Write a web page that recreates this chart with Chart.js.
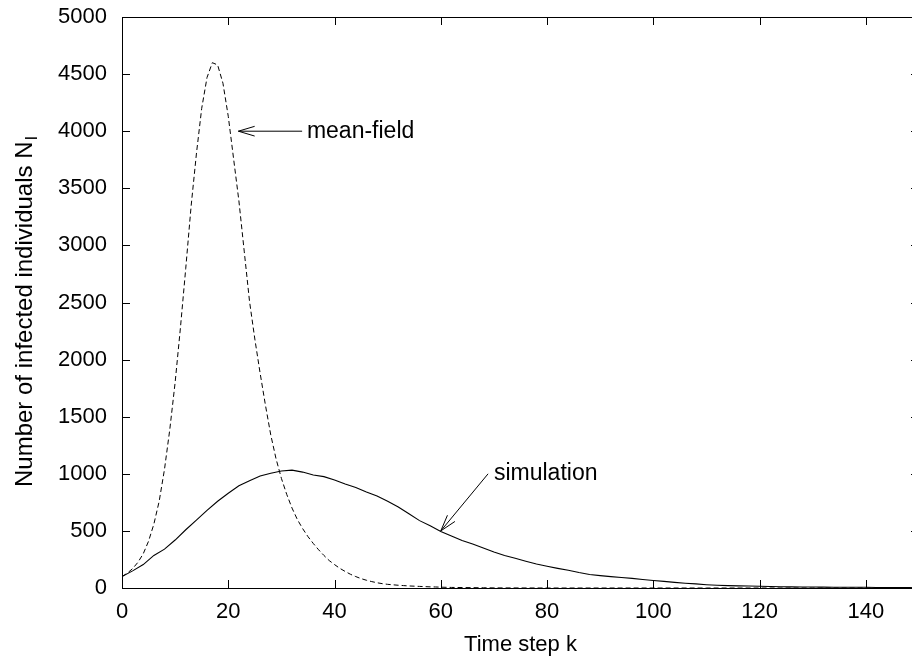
<!DOCTYPE html>
<html>
<head>
<meta charset="utf-8">
<script src="https://cdn.jsdelivr.net/npm/chart.js@4.4.1/dist/chart.umd.min.js"></script>
<style>
  html, body { margin: 0; padding: 0; overflow: hidden; background: #fff; }
  #wrap { width: 940px; height: 660px; }
</style>
</head>
<body>
<div id="wrap"><canvas id="chart" width="940" height="660"></canvas></div>
<script>
// mean-field model (dashed)
const meanFieldK = [0, 1, 2, 3, 4, 5, 6, 7, 8, 9, 10, 11, 12, 13, 14, 15, 16, 17, 18, 19,
  20, 21, 22, 23, 24, 25, 26, 27, 28, 29, 30, 31, 32, 33, 34, 35, 36, 37, 38, 39,
  40, 41, 42, 43, 44, 45, 46, 47, 48, 49, 50, 51, 52, 53, 54, 55, 56, 57, 58, 59,
  60, 62, 64, 66, 68, 70, 80, 90, 100, 110, 120, 130, 140, 150]
const meanFieldN = [100, 130, 170, 225, 300, 410, 560, 760, 1040, 1390, 1800, 2280, 2800, 3340, 3800, 4200, 4470, 4600, 4580, 4420,
  4130, 3760, 3390, 2950, 2510, 2180, 1880, 1600, 1340, 1130, 960, 820, 700, 600, 520, 450, 390, 335, 285, 240,
  205, 172, 145, 120, 100, 82, 68, 56, 46, 38, 32, 28, 24, 21, 18, 16, 14, 12, 10, 9,
  7, 5, 4, 3, 2, 1, 0, 0, 0, 0, 0, 0, 0, 0]

// simulation (solid)
const simK = [0, 2, 4, 6, 8, 10, 12, 14, 16, 18, 20, 22, 24, 26, 28, 30, 32, 34, 36, 38,
  40, 42, 44, 46, 48, 50, 52, 54, 56, 58, 60, 62, 64, 66, 68, 70, 72, 74, 76, 78,
  80, 82, 84, 86, 88, 90, 92, 94, 96, 98, 100, 102, 104, 106, 108, 110, 112, 114, 116, 118,
  120, 122, 124, 126, 128, 130, 132, 134, 136, 138, 140, 142, 144, 146, 148, 150]
const simN = [100, 150, 205, 285, 340, 420, 510, 595, 680, 760, 830, 895, 940, 980, 1005, 1025, 1032, 1015, 990, 975,
  945, 910, 880, 840, 805, 760, 710, 650, 590, 545, 495, 455, 415, 385, 350, 315, 285, 260, 235, 210,
  190, 172, 155, 135, 118, 108, 100, 92, 84, 74, 66, 58, 49, 42, 36, 29, 24, 21, 19, 17,
  15, 13, 11, 10, 9, 9, 8, 7, 6, 6, 6, 5, 4, 3, 3, 2]

const xTicks = [0, 20, 40, 60, 80, 100, 120, 140]
const yTicks = [0, 500, 1000, 1500, 2000, 2500, 3000, 3500, 4000, 4500, 5000]

// annotations: label start, arrow tail, arrow tip (data units)
const mfNote = { text: 'mean-field', label: [34.8, 4000], from: [33.9, 4000], to: [21.9, 4000] }
const simNote = { text: 'simulation', label: [70.0, 1000], from: [68.9, 1000], to: [60.0, 500] }

const FONT = '"Liberation Sans", Arial, Helvetica, sans-serif'

function drawArrow(ctx, x0, y0, x1, y1) {
  const ang = Math.atan2(y1 - y0, x1 - x0)
  const len = 17, spread = 0.29
  ctx.beginPath()
  ctx.moveTo(x0, y0); ctx.lineTo(x1, y1)
  ctx.moveTo(x1 - len * Math.cos(ang - spread), y1 - len * Math.sin(ang - spread))
  ctx.lineTo(x1, y1)
  ctx.lineTo(x1 - len * Math.cos(ang + spread), y1 - len * Math.sin(ang + spread))
  ctx.stroke()
}

const decor = {
  id: 'decor',
  afterDraw(chart) {
    const { ctx, chartArea: a, scales: { x, y } } = chart
    const L = Math.round(a.left), R = Math.round(a.right)
    const T = Math.round(a.top), B = Math.round(a.bottom)
    ctx.save()
    ctx.setLineDash([])
    ctx.strokeStyle = '#000'
    ctx.fillStyle = '#000'
    ctx.lineWidth = 1

    // box and inward ticks on all four sides
    ctx.fillRect(L, T, R - L, 1)
    ctx.fillRect(R - 1, T, 1, B - T)
    for (const v of xTicks) {
      const px = Math.round(x.getPixelForValue(v))
      ctx.fillRect(px, B - 8, 1, 8)
      ctx.fillRect(px, T, 1, 8)
    }
    for (const v of yTicks) {
      const py = Math.round(y.getPixelForValue(v))
      ctx.fillRect(L, py, 8, 1)
      ctx.fillRect(R - 8, py, 8, 1)
    }

    // annotations
    ctx.font = '23px ' + FONT
    ctx.textBaseline = 'middle'
    ctx.textAlign = 'left'
    for (const n of [mfNote, simNote]) {
      drawArrow(ctx, x.getPixelForValue(n.from[0]), y.getPixelForValue(n.from[1]),
        x.getPixelForValue(n.to[0]), y.getPixelForValue(n.to[1]))
      ctx.fillText(n.text, x.getPixelForValue(n.label[0]), y.getPixelForValue(n.label[1]))
    }

    // y axis title with subscript
    const main = 'Number of infected individuals N'
    ctx.font = '24px ' + FONT
    ctx.translate(32, 487)
    ctx.rotate(-Math.PI / 2)
    ctx.textBaseline = 'alphabetic'
    ctx.fillText(main, 0, 0)
    const w = ctx.measureText(main).width
    ctx.font = '17px ' + FONT
    ctx.fillText('I', w + 1, 5)
    ctx.restore()
  }
}

const tickFont = { family: FONT, size: 22 }

new Chart(document.getElementById('chart'), {
  type: 'line',
  data: {
    datasets: [{
      label: 'mean-field',
      data: meanFieldK.map((k, i) => ({ x: k, y: meanFieldN[i] })),
      borderColor: '#000',
      borderWidth: 1,
      borderDash: [5, 3],
      pointRadius: 0,
      tension: 0
    }, {
      label: 'simulation',
      data: simK.map((k, i) => ({ x: k, y: simN[i] })),
      borderColor: '#000',
      borderWidth: 1.1,
      pointRadius: 0,
      tension: 0
    }]
  },
  options: {
    responsive: false,
    animation: false,
    layout: { padding: { left: 0, right: 21, top: 17, bottom: 0 } },
    plugins: { legend: { display: false }, tooltip: { enabled: false } },
    scales: {
      x: {
        type: 'linear',
        min: 0,
        max: 150,
        afterBuildTicks: s => { s.ticks = xTicks.map(v => ({ value: v })) },
        afterFit: s => { s.height = 72; s.paddingLeft = 0; s.paddingRight = 0 },
        grid: { display: false, drawTicks: false },
        border: { display: true, color: '#000', width: 1 },
        ticks: { color: '#000', font: tickFont, padding: 11, maxRotation: 0, autoSkip: false, callback: v => String(v) },
        title: { display: true, text: 'Time step k', color: '#000', font: tickFont, padding: { top: 0, bottom: 2 } }
      },
      y: {
        min: 0,
        max: 5000,
        afterBuildTicks: s => { s.ticks = yTicks.map(v => ({ value: v })) },
        afterFit: s => { s.width = 122; s.paddingTop = 0; s.paddingBottom = 0 },
        grid: { display: false, drawTicks: false },
        border: { display: true, color: '#000', width: 1 },
        ticks: { color: '#000', font: tickFont, padding: 15, autoSkip: false, callback: v => String(v) }
      }
    }
  },
  plugins: [decor]
})
</script>
</body>
</html>
